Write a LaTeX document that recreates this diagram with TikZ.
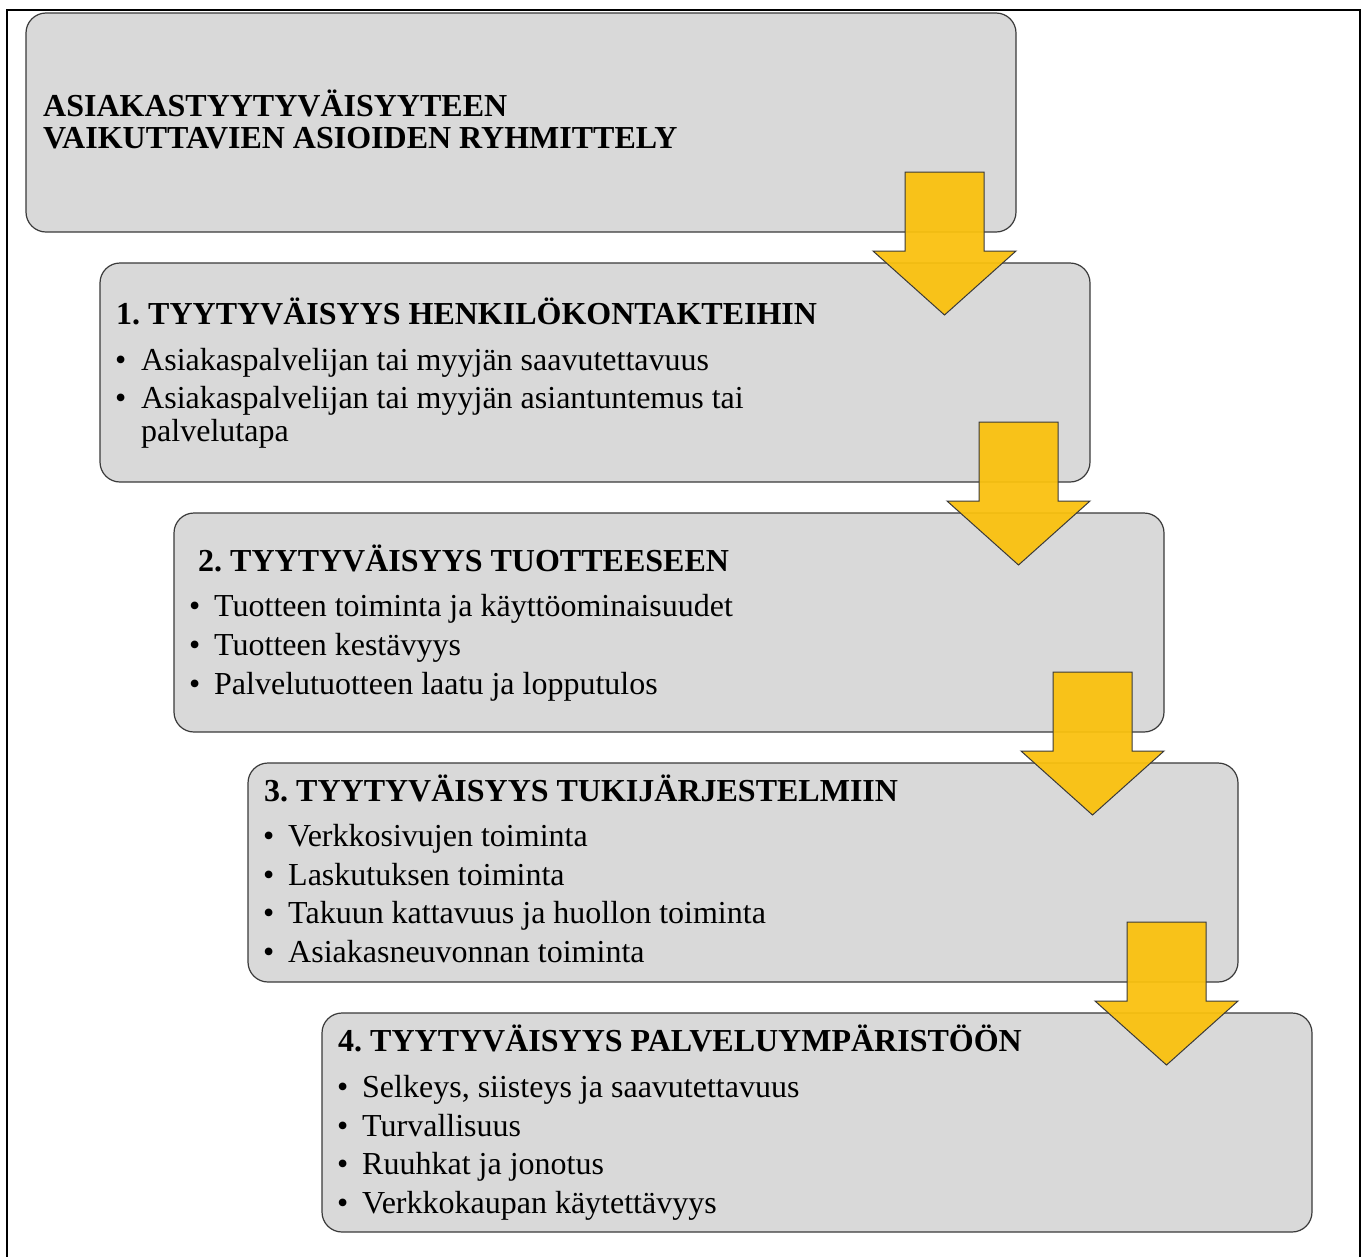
\documentclass[tikz,border=0pt]{standalone}
\usepackage{fontspec}
\setmainfont{Liberation Serif}
\frenchspacing
\definecolor{boxfill}{HTML}{D9D9D9}
\definecolor{boxline}{HTML}{3A3A3A}
\definecolor{arrowfill}{HTML}{FAC10E}
\tikzset{
  stage/.style={draw=boxline, line width=1.2pt, fill=boxfill, rounded corners=20pt,
    minimum width=990pt, minimum height=219pt, anchor=north west, inner sep=0pt, outer sep=0pt},
  head/.style={anchor=base west, inner sep=0pt, font=\fontsize{32}{32}\selectfont\bfseries},
  item/.style={anchor=base west, inner sep=0pt, font=\fontsize{32}{32}\selectfont},
  dot/.style={anchor=base west, inner sep=0pt, font=\fontsize{32}{32}\selectfont},
  flowarrow/.style={draw=boxline, line width=1pt, fill=arrowfill, fill opacity=0.94, line join=miter},
  pics/downarrow/.style={code={
    \draw[flowarrow] (-111,-60) -- (-32,-60) -- (-32,19) -- (0,19) -- (-71.5,83)
      -- (-143,19) -- (-111,19) -- cycle;
  }}
}
\begin{document}
\begin{tikzpicture}[x=1pt,y=-1pt]
\useasboundingbox (0,0) rectangle (1365,1256);
\clip (0,0) rectangle (1365,1256);
\fill[white] (0,0) rectangle (1365,1256);
% outer frame
\draw[line width=2.5pt] (7,10) rectangle (1360,1290);

% stages
\node[stage] (b0) at (26,13) {};
\node[stage] (b1) at (100,263) {};
\node[stage] (b2) at (174,513) {};
\node[stage] (b3) at (248,763) {};
\node[stage] (b4) at (322,1013) {};

% title
\node[head] (t0a) at (43,116) {ASIAKASTYYTYVÄISYYTEEN};
\node[head] (t0b) at (43,148) {VAIKUTTAVIEN ASIOIDEN RYHMITTELY};

% stage 1
\node[head] (h1) at (116,324) {1. TYYTYVÄISYYS HENKILÖKONTAKTEIHIN};
\node[dot] (d1a) at (115,370) {•};
\node[item] (i1a) at (141,370) {Asiakaspalvelijan tai myyjän saavutettavuus};
\node[dot] (d1b) at (115,408.5) {•};
\node[item] (i1b) at (141,408.5) {Asiakaspalvelijan tai myyjän asiantuntemus tai};
\node[item] (i1c) at (141,441) {palvelutapa};

% stage 2
\node[head] (h2) at (198,571) {2. TYYTYVÄISYYS TUOTTEESEEN};
\node[dot] (d2a) at (189,616) {•};
\node[item] (i2a) at (214,616) {Tuotteen toiminta ja käyttöominaisuudet};
\node[dot] (d2b) at (189,655) {•};
\node[item] (i2b) at (214,655) {Tuotteen kestävyys};
\node[dot] (d2c) at (189,694) {•};
\node[item] (i2c) at (214,694) {Palvelutuotteen laatu ja lopputulos};

% stage 3
\node[head] (h3) at (264,801) {3. TYYTYVÄISYYS TUKIJÄRJESTELMIIN};
\node[dot] (d3a) at (263,846) {•};
\node[item] (i3a) at (288,846) {Verkkosivujen toiminta};
\node[dot] (d3b) at (263,885) {•};
\node[item] (i3b) at (288,885) {Laskutuksen toiminta};
\node[dot] (d3c) at (263,923.5) {•};
\node[item] (i3c) at (288,923.5) {Takuun kattavuus ja huollon toiminta};
\node[dot] (d3d) at (263,962) {•};
\node[item] (i3d) at (288,962) {Asiakasneuvonnan toiminta};

% stage 4
\node[head] (h4) at (338,1051) {4. TYYTYVÄISYYS PALVELUYMPÄRISTÖÖN};
\node[dot] (d4a) at (337,1097) {•};
\node[item] (i4a) at (362,1097) {Selkeys, siisteys ja saavutettavuus};
\node[dot] (d4b) at (337,1136) {•};
\node[item] (i4b) at (362,1136) {Turvallisuus};
\node[dot] (d4c) at (337,1174.5) {•};
\node[item] (i4c) at (362,1174.5) {Ruuhkat ja jonotus};
\node[dot] (d4d) at (337,1213) {•};
\node[item] (i4d) at (362,1213) {Verkkokaupan käytettävyys};

% arrows between stages
\pic at (b0.south east) {downarrow};
\pic at (b1.south east) {downarrow};
\pic at (b2.south east) {downarrow};
\pic at (b3.south east) {downarrow};
\end{tikzpicture}
\end{document}
